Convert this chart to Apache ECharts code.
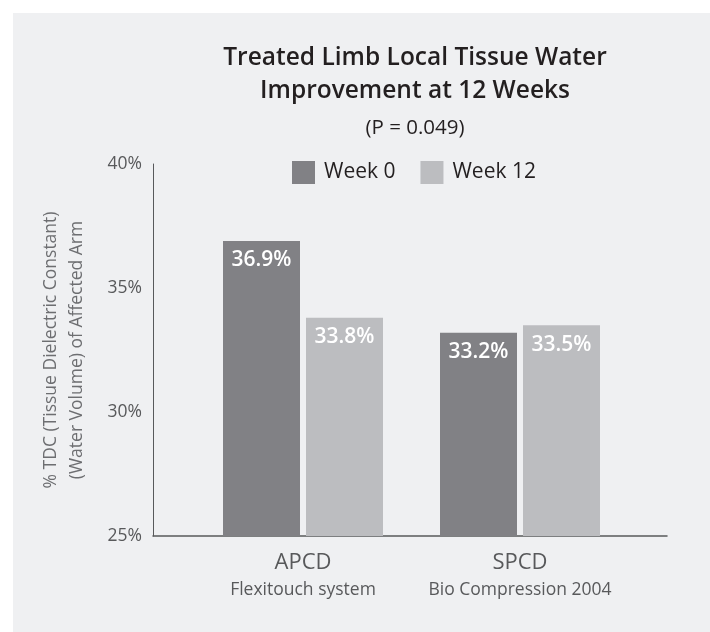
<!DOCTYPE html>
<html>
<head>
<meta charset="utf-8">
<script src="https://cdn.jsdelivr.net/npm/echarts@6/dist/echarts.min.js"></script>
<style>
html,body{margin:0;padding:0;background:#ffffff;}
#panel{position:absolute;left:13px;top:13px;width:697px;height:619px;background:#eff0f2;}
#chart{position:absolute;left:0;top:0;width:710px;height:632px;}
</style>
</head>
<body>
<div id="panel"></div>
<div id="chart"></div>
<script>
var categories = ['APCD', 'SPCD'];
var subLabels = ['Flexitouch system', 'Bio Compression 2004'];
var seriesNames = ['Week 0', 'Week 12'];
var week0 = [36.9, 33.2];
var week12 = [33.8, 33.5];
var yTicks = [25, 30, 35, 40];

var FONT = '"Open Sans", "Noto Sans", sans-serif';
var chart = echarts.init(document.getElementById('chart'), null, {renderer: 'canvas'});

function barLabel() {
  return {
    show: true, position: 'insideTop', distance: 9,
    color: '#ffffff', fontFamily: FONT, fontWeight: 600, fontSize: 21,
    formatter: function (p) { return p.value.toFixed(1) + '%'; }
  };
}

var option = {
  backgroundColor: 'transparent',
  animation: false,
  title: {
    text: 'Treated Limb Local Tissue Water\nImprovement at 12 Weeks',
    subtext: '(P = 0.049)',
    left: 415,
    textAlign: 'center',
    top: 42,
    padding: 0,
    itemGap: 8,
    textStyle: {fontFamily: FONT, fontWeight: 600, fontSize: 24.5, lineHeight: 33, color: '#231f20'},
    subtextStyle: {fontFamily: FONT, fontSize: 20.5, lineHeight: 24, color: '#231f20'}
  },
  legend: {
    data: seriesNames,
    left: 292, top: 161, padding: 0,
    icon: 'rect', itemWidth: 23, itemHeight: 23, itemGap: 25,
    textStyle: {fontFamily: FONT, fontSize: 21, color: '#231f20', padding: [0, 0, 0, 4]}
  },
  grid: [
    {left: 194.5, right: 81.5, top: 164, bottom: 96},
    {left: 153, right: 43, top: 164, bottom: 96}
  ],
  xAxis: [
    {
      type: 'category', gridIndex: 0, data: categories,
      axisLine: {show: false}, axisTick: {show: false},
      axisLabel: {
        margin: 14,
        formatter: function (v, i) { return '{a|' + v + '}\n{b|' + subLabels[i] + '}'; },
        rich: {
          a: {fontFamily: FONT, fontSize: 22, lineHeight: 26, color: '#58595b'},
          b: {fontFamily: FONT, fontSize: 17.5, lineHeight: 28, color: '#58595b'}
        }
      }
    },
    {
      type: 'category', gridIndex: 1, data: ['', ''],
      axisLine: {show: true, lineStyle: {color: '#58595b', width: 1.5}},
      axisTick: {show: false}, axisLabel: {show: false}
    }
  ],
  yAxis: [
    {
      type: 'value', gridIndex: 0, min: yTicks[0], max: yTicks[yTicks.length - 1], interval: 5,
      offset: 41.5,
      axisLine: {show: true, lineStyle: {color: '#58595b', width: 1}},
      axisTick: {show: false},
      splitLine: {show: false},
      axisLabel: {margin: 11, fontFamily: FONT, fontSize: 17.5, color: '#58595b', formatter: '{value}%'},
      name: '% TDC (Tissue Dielectric Constant)\n(Water Volume) of Affected Arm',
      nameLocation: 'middle', nameGap: 63,
      nameTextStyle: {fontFamily: FONT, fontSize: 17.5, lineHeight: 26, color: '#6d6e71'}
    },
    {
      type: 'value', gridIndex: 1, min: 25, max: 40, show: false
    }
  ],
  series: [
    {
      name: seriesNames[0], type: 'bar', xAxisIndex: 0, yAxisIndex: 0,
      data: week0, barWidth: 77, barGap: '7.8%',
      itemStyle: {color: '#818185'}, label: barLabel()
    },
    {
      name: seriesNames[1], type: 'bar', xAxisIndex: 0, yAxisIndex: 0,
      data: week12, barWidth: 77, barGap: '7.8%',
      itemStyle: {color: '#bcbdc0'}, label: barLabel()
    }
  ]
};
chart.setOption(option);
</script>
</body>
</html>
